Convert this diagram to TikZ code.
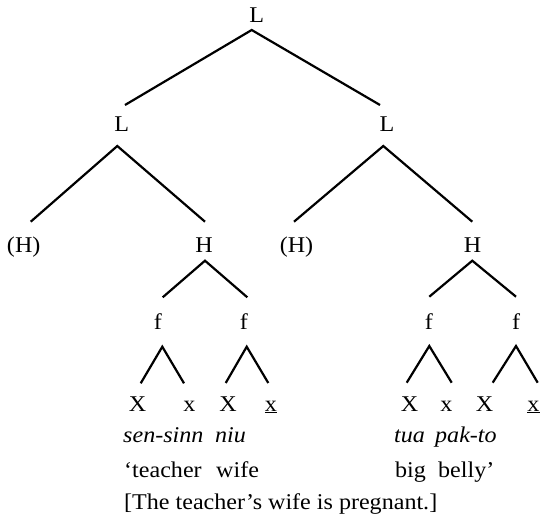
\documentclass[tikz,border=0pt]{standalone}
\usepackage{fontspec}
\setmainfont{Liberation Serif}[FakeStretch=1.07]
\usetikzlibrary{calc}
\begin{document}
\begin{tikzpicture}[x=1pt,y=-1pt,
  lab/.style={inner sep=0pt,anchor=base,font=\fontsize{22.5}{26}\selectfont},
  word/.style={inner sep=0pt,anchor=base west,font=\fontsize{22.5}{26}\selectfont},
  branch/.style={line width=2.2pt}]
\useasboundingbox (0,0) rectangle (540,517);
% tones
\node[lab] (root) at (256.7,22) {L};
\node[lab] (l1) at (121.7,131.5) {L};
\node[lab] (r1) at (387,131.5) {L};
\node[lab] (hl0) at (23.7,252) {(H)};
\node[lab] (hl) at (204,252) {H};
\node[lab] (hr0) at (296.5,252) {(H)};
\node[lab] (hr) at (472.5,252) {H};
% feet
\node[lab] (f1) at (158,329) {f};
\node[lab] (f2) at (244,329) {f};
\node[lab] (f3) at (429,329) {f};
\node[lab] (f4) at (516,329) {f};
% syllables
\node[lab] (s1) at (137.5,411) {X};
\node[lab] (s2) at (189.5,411) {x};
\node[lab] (s3) at (228,411) {X};
\node[lab] (s4) at (271,411) {\underline{x}};
\node[lab] (s5) at (409.5,411) {X};
\node[lab] (s6) at (446.5,411) {x};
\node[lab] (s7) at (484.5,411) {X};
\node[lab] (s8) at (533.5,411) {\underline{x}};
% words
\node[word] (w1) at (123,442) {\itshape sen-sinn};
\node[word] (w2) at (215,442) {\itshape niu};
\node[word] (w3) at (394,442) {\itshape tua};
\node[word] (w4) at (435,442) {\itshape pak-to};
\node[word] (g1) at (124,477) {‘teacher};
\node[word] (g2) at (216,477) {wife};
\node[word] (g3) at (395,477) {big};
\node[word] (g4) at (438,477) {belly’};
\node[word] (tr) at (124,509) {[The teacher’s wife is pregnant.]};
% branches
\draw[branch] ($(l1.base)+(3.3,-26.5)$) -- ($(root.base)+(-5,8)$) -- ($(r1.base)+(-7,-26.5)$);
\draw[branch] ($(hl0.base)+(7,-30.3)$) -- ($(l1.base)+(-4.4,14.5)$) -- ($(hl.base)+(1,-30.3)$);
\draw[branch] ($(hr0.base)+(-2.5,-30.3)$) -- ($(r1.base)+(-3.7,14.5)$) -- ($(hr.base)+(-0.2,-30.3)$);
\draw[branch] ($(f1.base)+(4.7,-31.7)$) -- ($(hl.base)+(1,8.7)$) -- ($(f2.base)+(3.3,-31.7)$);
\draw[branch] ($(f3.base)+(0.3,-32.3)$) -- ($(hr.base)+(-0.2,8.7)$) -- ($(f4.base)+(0,-32.3)$);
\draw[branch] ($(s1.base)+(3.2,-27.7)$) -- ($(f1.base)+(4.3,17.7)$) -- ($(s2.base)+(-5.5,-27.7)$);
\draw[branch] ($(s3.base)+(-2.3,-28)$) -- ($(f2.base)+(2.7,17.7)$) -- ($(s4.base)+(-2.7,-28)$);
\draw[branch] ($(s5.base)+(-2.8,-28.3)$) -- ($(f3.base)+(0.3,17)$) -- ($(s6.base)+(5.2,-28.3)$);
\draw[branch] ($(s7.base)+(8.2,-28.3)$) -- ($(f4.base)+(0,17)$) -- ($(s8.base)+(4.2,-28.3)$);
\end{tikzpicture}
\end{document}
